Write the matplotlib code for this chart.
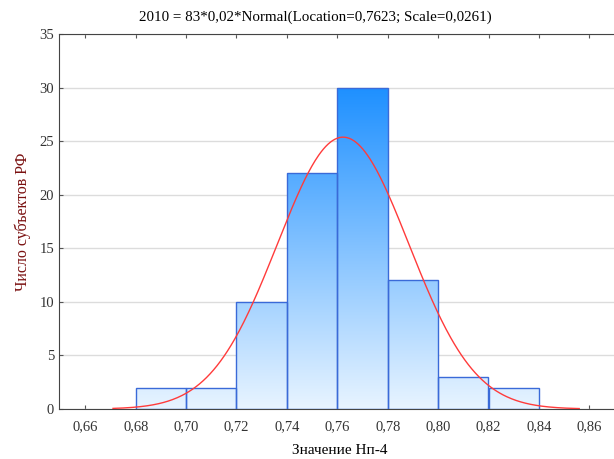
import numpy as np
import matplotlib.pyplot as plt
from matplotlib.patches import Rectangle
from matplotlib.ticker import FuncFormatter, MultipleLocator

# histogram bins (left edges) and counts
bin_left = [0.68, 0.70, 0.72, 0.74, 0.76, 0.78, 0.80, 0.82]
bin_width = 0.02
counts = [2, 2, 10, 22, 30, 12, 3, 2]

# fitted normal from the chart title
n_total = 83
loc = 0.7623
scale = 0.0261
curve_range = (0.671, 0.856)

plt.rcParams['font.family'] = ['Liberation Serif', 'DejaVu Serif']

fig = plt.figure(figsize=(6.14, 4.59), dpi=100)
# axes run a little past the right edge of the figure, as in the original
ax_w_px = 561
ax = fig.add_axes([59 / 614, 50 / 459, ax_w_px / 614, 375 / 459])

px_per_unit = 2520
xmin = 0.68 - (135.7 - 59) / px_per_unit
xmax = xmin + ax_w_px / px_per_unit
ax.set_xlim(xmin, xmax)
ax.set_ylim(0, 35)

ax.yaxis.grid(True, color='#dcdcdc', linewidth=1)
ax.set_axisbelow(True)

# vertical gradient light -> blue over 0..30
low = np.array([232, 244, 255]) / 255
high = np.array([30, 144, 255]) / 255
t = np.linspace(0, 1, 256)[:, None]
grad = low[None, :] * (1 - t) + high[None, :] * t
grad = grad[:, None, :]

for x0, c in zip(bin_left, counts):
    im = ax.imshow(grad, extent=(xmin, xmax, 0, 30), origin='lower',
                   aspect='auto', zorder=2, interpolation='bilinear')
    rect = Rectangle((x0, 0), bin_width, c, facecolor='none',
                     edgecolor='#3a6ad8', linewidth=1.0, zorder=3)
    ax.add_patch(rect)
    im.set_clip_path(rect)

xs = np.linspace(curve_range[0], curve_range[1], 400)
ys = n_total * bin_width * np.exp(-0.5 * ((xs - loc) / scale) ** 2) / (scale * np.sqrt(2 * np.pi))
ax.plot(xs, ys, color='#ff3b3b', linewidth=1.0, zorder=4)

ax.xaxis.set_major_locator(MultipleLocator(0.02))
ax.yaxis.set_major_locator(MultipleLocator(5))
ax.xaxis.set_major_formatter(FuncFormatter(lambda v, p: ('%.2f' % v).replace('.', ',')))
ax.yaxis.set_major_formatter(FuncFormatter(lambda v, p: '%d' % v))
ax.tick_params(axis='x', direction='in', top=True, length=3, color='#555555',
               labelsize=10.5, pad=8, labelcolor='#333333')
ax.tick_params(axis='y', direction='in', length=3, color='#555555',
               labelsize=10.5, labelcolor='#333333')

for side in ['left', 'top', 'bottom']:
    ax.spines[side].set_color('#444444')
ax.spines['right'].set_visible(False)

fig.text(315 / 614, 1 - 17 / 459, '2010 = 83*0,02*Normal(Location=0,7623; Scale=0,0261)',
         fontsize=10.8, ha='center', va='center')
ax.set_xlabel('Значение Нп-4', fontsize=11, labelpad=8)
ax.set_ylabel('Число субъектов РФ', fontsize=11.5, color='#7a1010', labelpad=6)

fig.savefig('out.png', dpi=100)
